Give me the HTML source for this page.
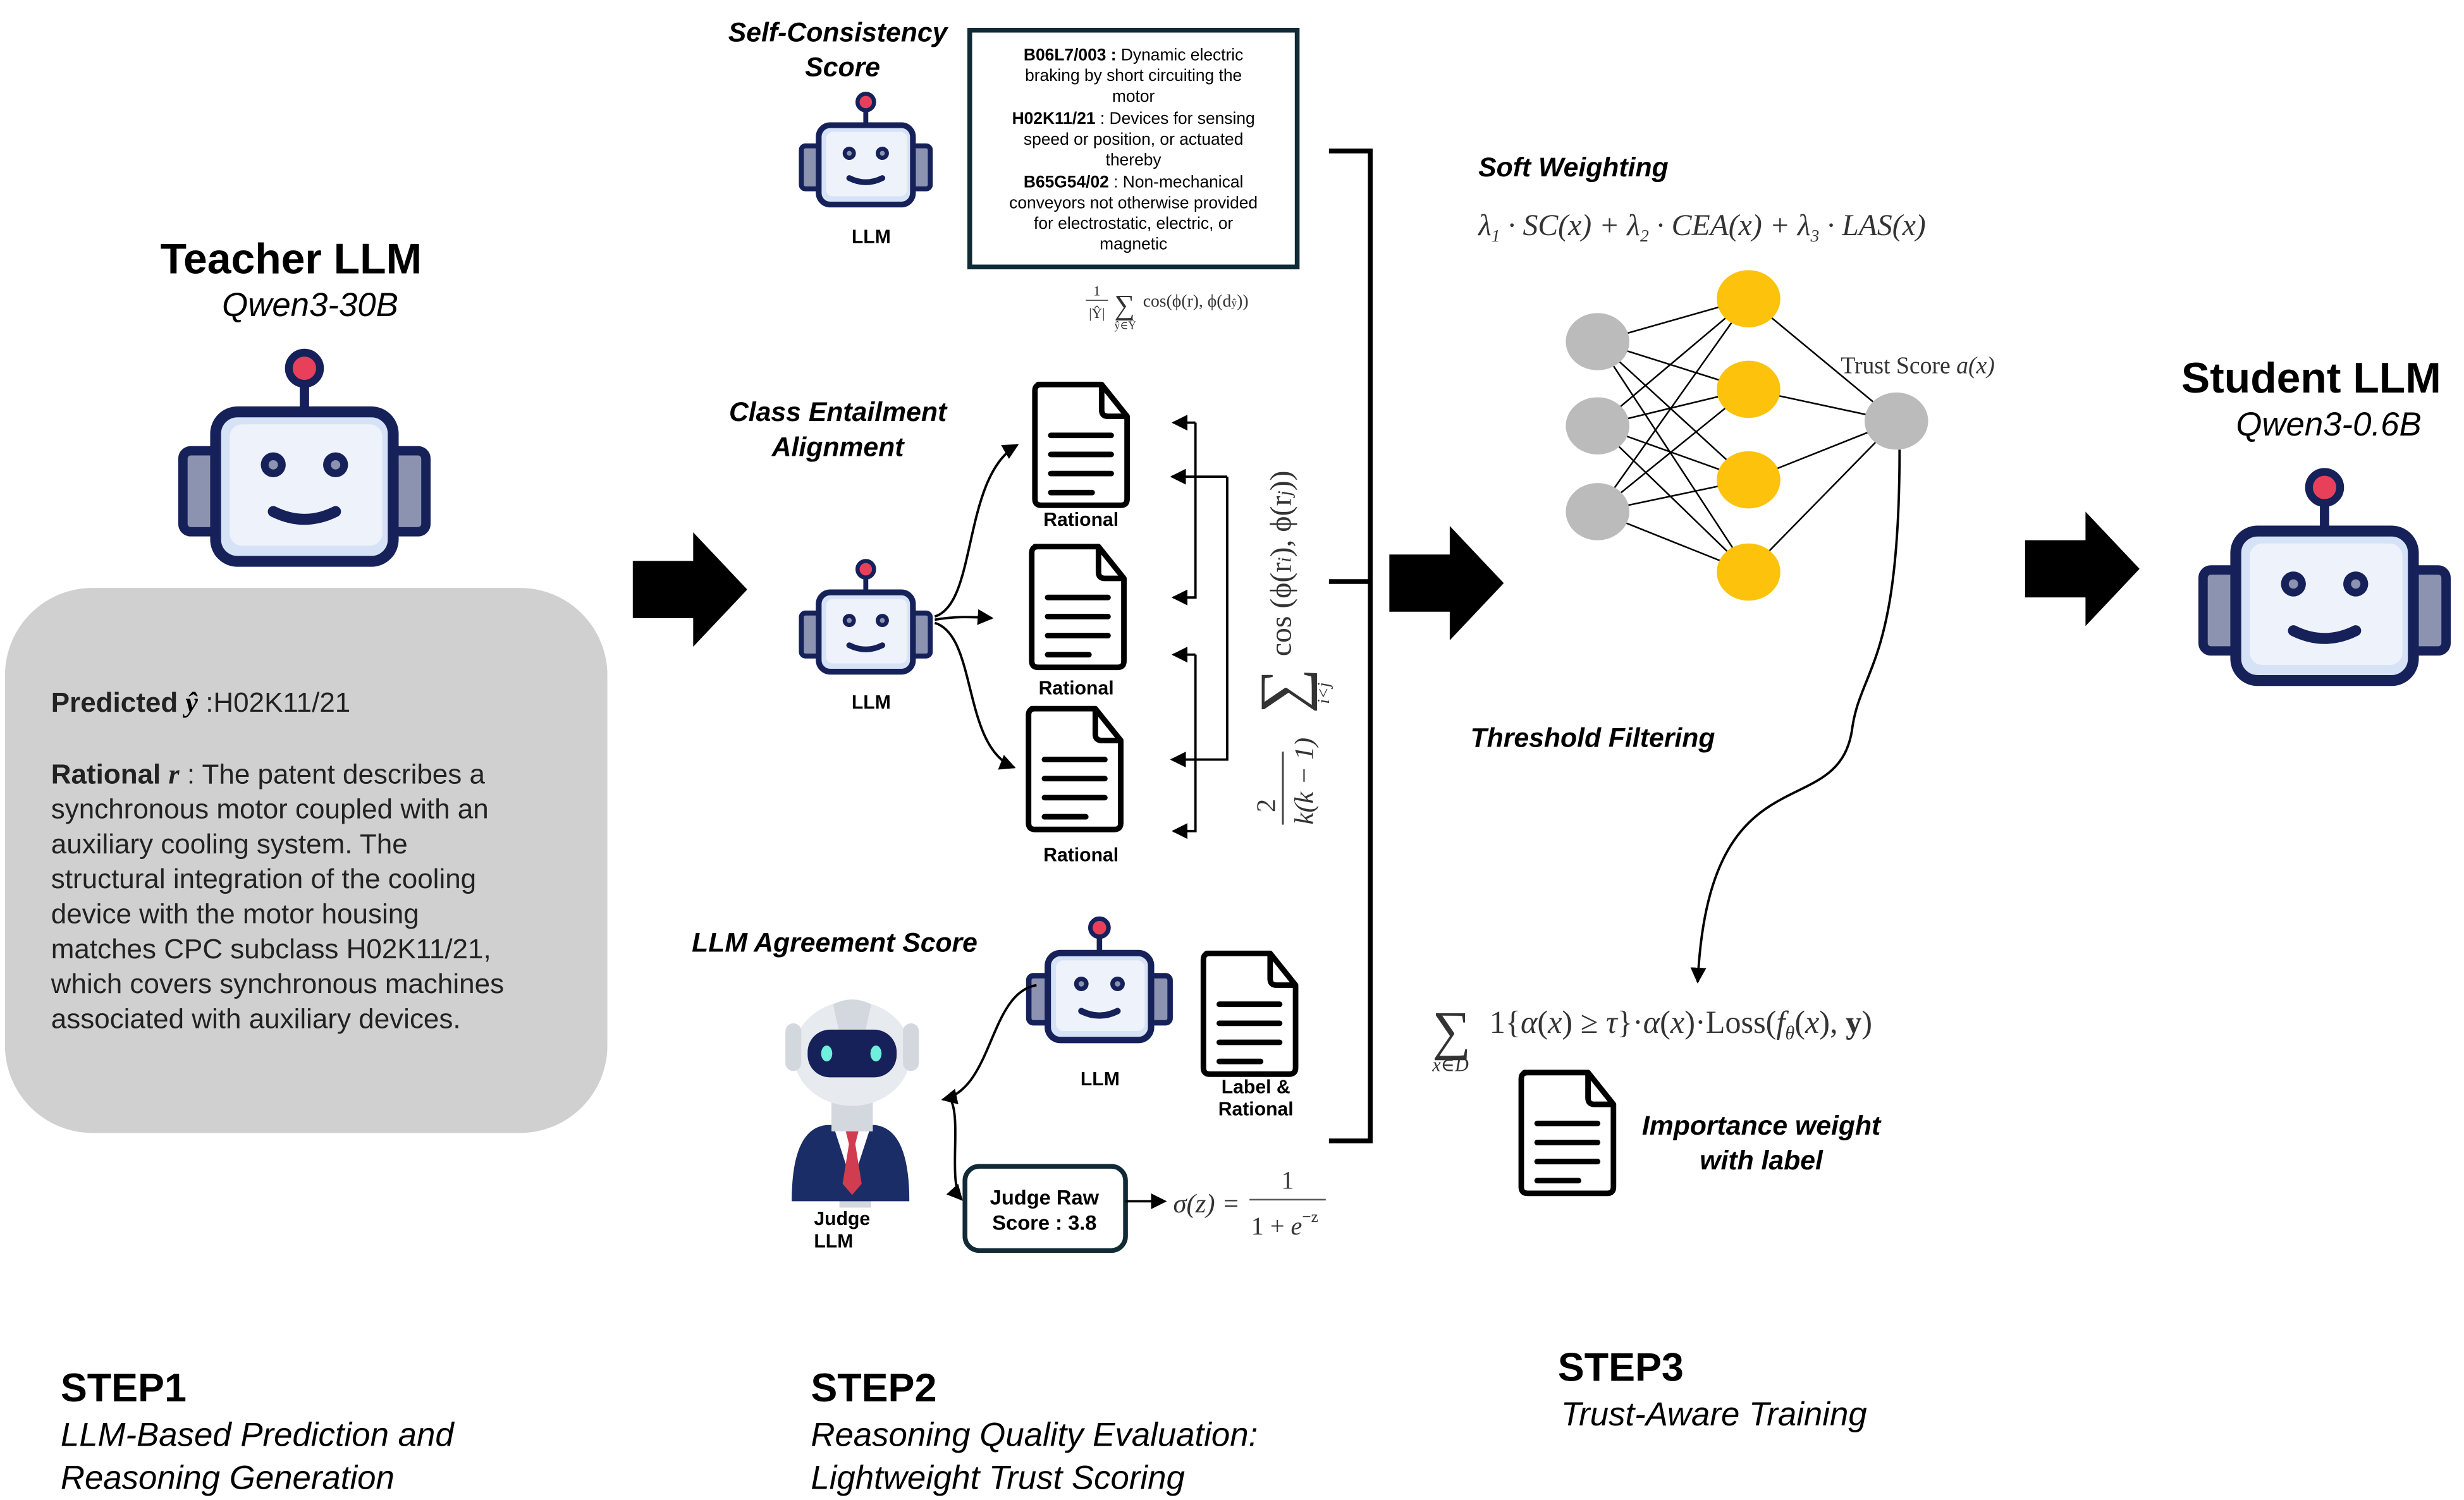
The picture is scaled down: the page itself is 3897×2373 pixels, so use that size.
<!DOCTYPE html>
<html><head><meta charset="utf-8"><style>
html,body{margin:0;padding:0;background:#fff;}
svg{display:block;}
text{font-family:"Liberation Sans","DejaVu Sans",sans-serif;}
.m,.m text,text.m{font-family:"Liberation Serif","DejaVu Serif",serif;fill:#333;}
.bi{font-weight:bold;font-style:italic;}
</style></head><body>
<svg width="3897" height="2373" viewBox="0 0 1550 944" xmlns="http://www.w3.org/2000/svg">
<defs>
<g id="robot">
 <line x1="80" y1="12" x2="80" y2="42" stroke="#16215a" stroke-width="6"/>
 <circle cx="80" cy="12" r="10" fill="#e8405a" stroke="#16215a" stroke-width="5"/>
 <rect x="2" y="65" width="26" height="52" rx="5" fill="#8c93b0" stroke="#16215a" stroke-width="6"/>
 <rect x="132" y="65" width="26" height="52" rx="5" fill="#8c93b0" stroke="#16215a" stroke-width="6"/>
 <rect x="23" y="40" width="114" height="96" rx="14" fill="#d6e2f6" stroke="#16215a" stroke-width="7"/>
 <rect x="32" y="48" width="98" height="78" rx="8" fill="#eef2fa"/>
 <circle cx="60" cy="74" r="8" fill="#16215a"/><circle cx="60" cy="74" r="3" fill="#8c93b0"/>
 <circle cx="100" cy="74" r="8" fill="#16215a"/><circle cx="100" cy="74" r="3" fill="#8c93b0"/>
 <path d="M60 104 Q80 114 100 104" fill="none" stroke="#16215a" stroke-width="7" stroke-linecap="round"/>
</g>
<g id="doc">
 <path d="M4 2 H44 L60 22 V74 Q60 78 56 78 H6 Q2 78 2 74 V6 Q2 2 6 2 Z" fill="#fff" stroke="#000" stroke-width="3.5" stroke-linejoin="round"/>
 <path d="M44 2 V18 Q44 22 48 22 H60" fill="none" stroke="#000" stroke-width="3.5"/>
 <g stroke="#000" stroke-width="3.5" stroke-linecap="round"><line x1="12" y1="34" x2="50" y2="34"/><line x1="12" y1="46" x2="50" y2="46"/><line x1="12" y1="58" x2="50" y2="58"/><line x1="12" y1="70" x2="38" y2="70"/></g>
</g>
<marker id="ah" markerWidth="10" markerHeight="10" refX="9" refY="5" orient="auto" markerUnits="userSpaceOnUse"><path d="M0 0 L10 5 L0 10Z" fill="#000"/></marker>
<g id="bigarrow"><path d="M0 18 H38 V0 L72 36 L38 72 V54 H0 Z" fill="#000"/></g>
</defs>

<!-- STEP1 -->
<text x="183" y="172" font-size="27" font-weight="bold" text-anchor="middle">Teacher LLM</text>
<text x="195" y="199" font-size="21" font-style="italic" text-anchor="middle">Qwen3-30B</text>
<use href="#robot" transform="translate(113,220) scale(0.98)"/>
<rect x="3" y="370" width="379" height="343" rx="55" fill="#d0d0d0"/>
<g font-size="17.5" fill="#222">
<text x="32" y="448"><tspan font-weight="bold">Predicted </tspan><tspan font-family="Liberation Serif" font-style="italic" font-weight="bold" fill="#000">ŷ</tspan> :H02K11/21</text>
<text x="32" y="493"><tspan font-weight="bold">Rational </tspan><tspan font-style="italic" font-weight="bold" font-family="Liberation Serif">r</tspan> : The patent describes a</text>
<text x="32" y="515">synchronous motor coupled with an</text>
<text x="32" y="537">auxiliary cooling system. The</text>
<text x="32" y="559">structural integration of the cooling</text>
<text x="32" y="581">device with the motor housing</text>
<text x="32" y="603">matches CPC subclass H02K11/21,</text>
<text x="32" y="625">which covers synchronous machines</text>
<text x="32" y="647">associated with auxiliary devices.</text>
</g>
<text x="38" y="882" font-size="25" font-weight="bold">STEP1</text>
<text x="38" y="910" font-size="21" font-style="italic">LLM-Based Prediction and</text>
<text x="38" y="937" font-size="21" font-style="italic">Reasoning Generation</text>

<use href="#bigarrow" transform="translate(398,335)"/>

<!-- STEP2 top -->
<text x="527" y="26" font-size="17" class="bi" text-anchor="middle">Self-Consistency</text>
<text x="530" y="48" font-size="17" class="bi" text-anchor="middle">Score</text>
<use href="#robot" transform="translate(503,58) scale(0.52)"/>
<text x="548" y="153" font-size="12" font-weight="bold" text-anchor="middle">LLM</text>
<rect x="610" y="19" width="206" height="149" fill="#fff" stroke="#102a36" stroke-width="3"/>
<g font-size="10.5" text-anchor="middle">
<text x="713" y="38"><tspan font-weight="bold">B06L7/003 :</tspan> Dynamic electric</text>
<text x="713" y="51">braking by short circuiting the</text>
<text x="713" y="64">motor</text>
<text x="713" y="78"><tspan font-weight="bold">H02K11/21</tspan> : Devices for sensing</text>
<text x="713" y="91">speed or position, or actuated</text>
<text x="713" y="104">thereby</text>
<text x="713" y="118"><tspan font-weight="bold">B65G54/02</tspan> : Non-mechanical</text>
<text x="713" y="131">conveyors not otherwise provided</text>
<text x="713" y="144">for electrostatic, electric, or</text>
<text x="713" y="157">magnetic</text>
</g>
<g class="m" font-size="10">
<text x="690" y="186" text-anchor="middle" font-size="9">1</text>
<line x1="683" y1="189" x2="697" y2="189" stroke="#555" stroke-width="0.7"/>
<text x="690" y="200" text-anchor="middle" font-size="9">|Ŷ|</text>
<text x="701" y="198" font-size="18">∑</text>
<text x="701" y="207" font-size="7">ŷ∈Ŷ</text>
<text x="719" y="193" font-size="11">cos(ϕ(r), ϕ(d<tspan font-size="7">ŷ</tspan>))</text>
</g>

<!-- CEA -->
<text x="527" y="265" font-size="17" class="bi" text-anchor="middle">Class Entailment</text>
<text x="527" y="287" font-size="17" class="bi" text-anchor="middle">Alignment</text>
<use href="#robot" transform="translate(503,352) scale(0.52)"/>
<text x="548" y="446" font-size="12" font-weight="bold" text-anchor="middle">LLM</text>
<use href="#doc" transform="translate(649,240)"/>
<text x="680" y="331" font-size="12" font-weight="bold" text-anchor="middle">Rational</text>
<use href="#doc" transform="translate(647,342)"/>
<text x="677" y="437" font-size="12" font-weight="bold" text-anchor="middle">Rational</text>
<use href="#doc" transform="translate(645,444)"/>
<text x="680" y="542" font-size="12" font-weight="bold" text-anchor="middle">Rational</text>
<g fill="none" stroke="#000" stroke-width="1.5" marker-end="url(#ah)">
<path d="M588 388 C615 380 605 300 640 280"/>
<path d="M588 390 C600 388 610 388 624 389"/>
<path d="M588 392 C615 400 605 470 638 483"/>
</g>
<g fill="none" stroke="#000" stroke-width="1.5">
<path d="M752 266 V376 H738" marker-end="url(#ah)"/>
<path d="M752 266 H738" marker-end="url(#ah)"/>
<path d="M772 300 H737" marker-end="url(#ah)"/>
<path d="M772 300 V478 H737" marker-end="url(#ah)"/>
<path d="M752 412 H738" marker-end="url(#ah)"/>
<path d="M752 412 V523 H738" marker-end="url(#ah)"/>
</g>
<g transform="translate(810,517) rotate(-90)" class="m">
<text x="10" y="-8" font-size="17" text-anchor="middle">2</text>
<line x1="-2" y1="-3" x2="44" y2="-3" stroke="#444" stroke-width="1.2"/>
<text x="-2" y="16" font-size="17" font-style="italic">k(k − 1)</text>
<text x="68" y="10" font-size="40">∑</text>
<text x="74" y="26" font-size="11" font-style="italic">i&lt;j</text>
<text x="104" y="2" font-size="19">cos (ϕ(r<tspan font-size="12" font-style="italic">i</tspan>), ϕ(r<tspan font-size="12" font-style="italic">j</tspan>))</text>
</g>

<!-- Agreement -->
<text x="525" y="599" font-size="17" class="bi" text-anchor="middle">LLM Agreement Score</text>
<use href="#robot" transform="translate(646,577) scale(0.57)"/>
<text x="692" y="683" font-size="12" font-weight="bold" text-anchor="middle">LLM</text>
<use href="#doc" transform="translate(755,598)"/>
<text x="790" y="688" font-size="12" font-weight="bold" text-anchor="middle">Label &amp;</text>
<text x="790" y="702" font-size="12" font-weight="bold" text-anchor="middle">Rational</text>
<!-- judge -->
<g>
 <rect x="528" y="730" width="20" height="30" fill="#d3d8de"/>
 <path d="M498 756 Q498 710 520 708 H550 Q572 710 572 756 Z" fill="#1b2d66"/>
 <path d="M524 708 L536 745 L548 708 Z" fill="#fff"/>
 <path d="M532 712 L536 710 L540 712 L538 720 L542 745 L536 752 L530 745 L534 720 Z" fill="#d23c50"/>
 <rect x="523" y="690" width="26" height="22" fill="#d3d8de"/>
 <ellipse cx="536" cy="663" rx="37" ry="33" fill="#e7eaee"/>
 <rect x="494" y="644" width="10" height="30" rx="5" fill="#d3d8de"/>
 <rect x="568" y="644" width="10" height="30" rx="5" fill="#d3d8de"/>
 <path d="M524 632 Q536 626 548 632 L544 650 H528 Z" fill="#d3d8de"/>
 <rect x="508" y="648" width="56" height="30" rx="14" fill="#16215a"/>
 <ellipse cx="520" cy="663" rx="3.5" ry="5" fill="#6ff0dc"/>
 <ellipse cx="551" cy="663" rx="3.5" ry="5" fill="#6ff0dc"/>
</g>
<text x="512" y="771" font-size="12" font-weight="bold">Judge</text>
<text x="512" y="785" font-size="12" font-weight="bold">LLM</text>
<path d="M652 620 C622 625 625 685 593 692" fill="none" stroke="#000" stroke-width="1.5" marker-end="url(#ah)"/>
<path d="M598 692 C605 705 596 745 605 755" fill="none" stroke="#000" stroke-width="1.5" marker-end="url(#ah)"/>
<rect x="607" y="734" width="101" height="53" rx="9" fill="#fff" stroke="#102a36" stroke-width="3"/>
<text x="657" y="758" font-size="13" font-weight="bold" text-anchor="middle">Judge Raw</text>
<text x="657" y="774" font-size="13" font-weight="bold" text-anchor="middle">Score : 3.8</text>
<path d="M708 756 H733" stroke="#000" stroke-width="1.5" marker-end="url(#ah)"/>
<g class="m">
<text x="738" y="763" font-size="17" font-style="italic">σ(z) =</text>
<text x="810" y="748" font-size="16" text-anchor="middle">1</text>
<line x1="786" y1="755" x2="834" y2="755" stroke="#555" stroke-width="1"/>
<text x="787" y="777" font-size="16">1 + <tspan font-style="italic">e</tspan><tspan font-size="10" dy="-8">−z</tspan></text>
</g>

<!-- bracket -->
<g stroke="#000" stroke-width="3" fill="none">
<path d="M836 95 H862 V718 H836"/>
<path d="M836 366 H862"/>
</g>
<text x="510" y="882" font-size="25" font-weight="bold">STEP2</text>
<text x="510" y="910" font-size="21" font-style="italic">Reasoning Quality Evaluation:</text>
<text x="510" y="937" font-size="21" font-style="italic">Lightweight Trust Scoring</text>

<use href="#bigarrow" transform="translate(874,331)"/>

<!-- STEP3 -->
<text x="930" y="111" font-size="17" class="bi">Soft Weighting</text>
<text x="930" y="148" font-size="19" class="m" font-style="italic">λ<tspan font-size="11" dy="4">1</tspan><tspan dy="-4"> · SC(x) + λ</tspan><tspan font-size="11" dy="4">2</tspan><tspan dy="-4"> · CEA(x) + λ</tspan><tspan font-size="11" dy="4">3</tspan><tspan dy="-4"> · LAS(x)</tspan></text>
<g stroke="#000" stroke-width="1">
<line x1="1005" y1="215" x2="1100" y2="188"/><line x1="1005" y1="215" x2="1100" y2="245"/><line x1="1005" y1="215" x2="1100" y2="302"/><line x1="1005" y1="215" x2="1100" y2="360"/>
<line x1="1005" y1="268" x2="1100" y2="188"/><line x1="1005" y1="268" x2="1100" y2="245"/><line x1="1005" y1="268" x2="1100" y2="302"/><line x1="1005" y1="268" x2="1100" y2="360"/>
<line x1="1005" y1="322" x2="1100" y2="188"/><line x1="1005" y1="322" x2="1100" y2="245"/><line x1="1005" y1="322" x2="1100" y2="302"/><line x1="1005" y1="322" x2="1100" y2="360"/>
<line x1="1100" y1="188" x2="1193" y2="265"/><line x1="1100" y1="245" x2="1193" y2="265"/><line x1="1100" y1="302" x2="1193" y2="265"/><line x1="1100" y1="360" x2="1193" y2="265"/>
</g>
<g fill="#bbb"><ellipse cx="1005" cy="215" rx="20" ry="18"/><ellipse cx="1005" cy="268" rx="20" ry="18"/><ellipse cx="1005" cy="322" rx="20" ry="18"/><ellipse cx="1193" cy="265" rx="20" ry="18"/></g>
<g fill="#fcc20c"><ellipse cx="1100" cy="188" rx="20" ry="18"/><ellipse cx="1100" cy="245" rx="20" ry="18"/><ellipse cx="1100" cy="302" rx="20" ry="18"/><ellipse cx="1100" cy="360" rx="20" ry="18"/></g>
<text x="1158" y="235" font-size="15" class="m" fill="#000">Trust Score <tspan font-style="italic">a(x)</tspan></text>
<path d="M1195 283 C1195 420 1170 420 1165 460 C1155 520 1075 470 1068 618" fill="none" stroke="#000" stroke-width="1.5" marker-end="url(#ah)"/>
<text x="925" y="470" font-size="17" class="bi">Threshold Filtering</text>
<g class="m">
<text x="901" y="660" font-size="34" fill="#000">∑</text>
<text x="901" y="674" font-size="12" font-style="italic">x∈D</text>
<text x="937" y="650" font-size="20" fill="#000">1{<tspan font-style="italic">α</tspan>(<tspan font-style="italic">x</tspan>) ≥ <tspan font-style="italic">τ</tspan>}·<tspan font-style="italic">α</tspan>(<tspan font-style="italic">x</tspan>)·Loss(<tspan font-style="italic">f</tspan><tspan font-size="12" dy="4" font-style="italic">θ</tspan><tspan dy="-4">(</tspan><tspan font-style="italic">x</tspan>), <tspan font-weight="bold">y</tspan>)</text>
</g>
<use href="#doc" transform="translate(955,673)"/>
<text x="1108" y="714" font-size="17" class="bi" text-anchor="middle">Importance weight</text>
<text x="1108" y="736" font-size="17" class="bi" text-anchor="middle">with label</text>
<text x="980" y="869" font-size="25" font-weight="bold">STEP3</text>
<text x="982" y="897" font-size="21" font-style="italic">Trust-Aware Training</text>

<use href="#bigarrow" transform="translate(1274,322)"/>

<text x="1454" y="247" font-size="27" font-weight="bold" text-anchor="middle">Student LLM</text>
<text x="1465" y="274" font-size="21" font-style="italic" text-anchor="middle">Qwen3-0.6B</text>
<use href="#robot" transform="translate(1384,295) scale(0.98)"/>
</svg>
</body></html>
